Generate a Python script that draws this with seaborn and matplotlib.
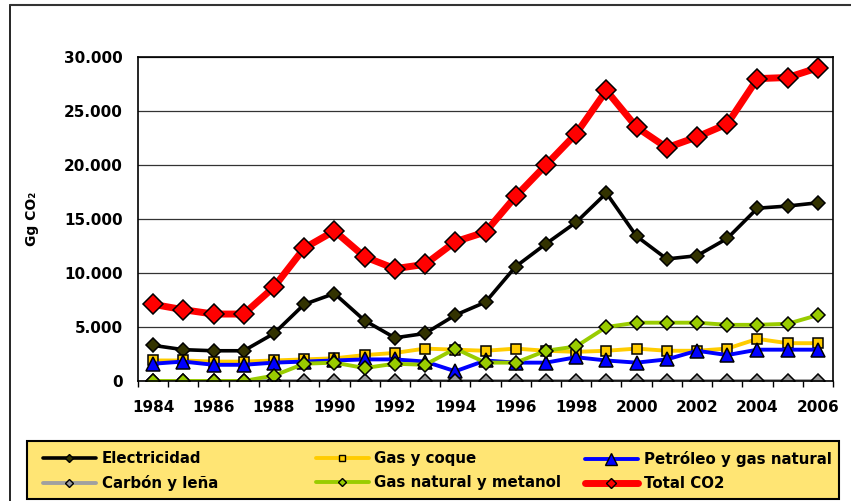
import matplotlib
matplotlib.use("Agg")
import matplotlib.pyplot as plt
import seaborn as sns
import pandas as pd
from matplotlib.ticker import FuncFormatter, MultipleLocator
from matplotlib.lines import Line2D
from matplotlib.patches import Rectangle

# data (Gg CO2)
years = list(range(1984, 2007))
electricidad = [3300, 2900, 2800, 2800, 4400, 7100, 8100, 5600, 4000, 4400, 6100, 7300,
                10600, 12700, 14700, 17400, 13400, 11300, 11600, 13200, 16000, 16200, 16500]
gas_coque = [1900, 1900, 1800, 1800, 1900, 2000, 2100, 2400, 2600, 3000, 2900, 2800,
             3000, 2800, 2700, 2800, 3000, 2800, 2800, 3000, 3900, 3500, 3500]
petroleo = [1600, 1800, 1500, 1500, 1700, 1800, 1900, 2000, 2000, 1800, 900, 1900,
            1700, 1700, 2200, 1900, 1700, 2000, 2800, 2400, 2900, 2900, 2900]
carbon = [0] * 23
gas_metanol = [0, 0, 0, 0, 500, 1600, 1700, 1200, 1600, 1500, 3000, 1700,
               1700, 2800, 3200, 5000, 5400, 5400, 5400, 5200, 5200, 5300, 6100]
total = [7100, 6600, 6200, 6200, 8700, 12300, 13900, 11500, 10400, 10800, 12900, 13800,
         17100, 20000, 22900, 26900, 23500, 21600, 22600, 23800, 28000, 28100, 29000]

# name, values, style, legend marker size
series = [
    ("Electricidad", electricidad, dict(color="black", lw=2.6, marker="D", ms=7, mfc="#333300"), 4.5),
    ("Gas y coque", gas_coque, dict(color="#FFCC00", lw=2.8, marker="s", ms=7, mfc="#FFCC00"), 5),
    ("Petróleo y gas natural", petroleo, dict(color="#0000FF", lw=2.8, marker="^", ms=10, mfc="#0000FF"), 8),
    ("Carbón y leña", carbon, dict(color="#A0A0A0", lw=2.8, marker="D", ms=7, mfc="#999999"), 4.5),
    ("Gas natural y metanol", gas_metanol, dict(color="#99CC00", lw=2.8, marker="D", ms=7, mfc="#99CC00"), 4.5),
    ("Total CO2", total, dict(color="#FF0000", lw=5, marker="D", ms=10, mfc="#FF0000"), 5),
]

sns.set_style("white")
plt.rcParams["font.family"] = ["DejaVu Sans"]
plt.rcParams.update({"text.color": "black", "axes.labelcolor": "black",
                     "xtick.color": "black", "ytick.color": "black"})

fig = plt.figure(figsize=(8.51, 5.01), dpi=100)
ax = fig.add_axes([138 / 851, 1 - 381 / 501, (833 - 138) / 851, (381 - 57) / 501])

handles = {}
for name, vals, st, lms in series:
    df = pd.DataFrame({"year": years, "val": vals})
    sns.lineplot(data=df, x="year", y="val", ax=ax, color=st["color"], linewidth=st["lw"],
                 marker=st["marker"], markersize=st["ms"], markerfacecolor=st["mfc"],
                 markeredgecolor="black", markeredgewidth=1.1, label=name, legend=False)
    handles[name] = Line2D([], [], color=st["color"], lw=st["lw"], marker=st["marker"],
                           ms=lms, mfc=st["mfc"], mec="black", mew=1.0)

ax.set_xlim(1983.5, 2006.5)
ax.set_ylim(0, 30000)
ax.yaxis.set_major_locator(MultipleLocator(5000))
ax.yaxis.set_major_formatter(FuncFormatter(lambda v, p: f"{int(v):,}".replace(",", ".")))
ax.set_xticks(years[::2])
ax.set_xticks([y + 0.5 for y in range(1983, 2007)], minor=True)
ax.grid(axis="y", color="#333333", lw=0.9)
ax.set_axisbelow(True)
for s in ax.spines.values():
    s.set_color("black")
    s.set_linewidth(1.2)
ax.tick_params(axis="x", which="major", length=0, pad=14, labelsize=11)
ax.tick_params(axis="x", which="minor", length=4, direction="out", width=1)
ax.tick_params(axis="y", length=5, direction="out", width=1, labelsize=11, pad=6)
ax.xaxis.set_tick_params(which="minor", bottom=True)
for t in ax.get_xticklabels() + ax.get_yticklabels():
    t.set_fontweight("bold")
ax.set_xlabel("")
ax.set_ylabel("Gg CO₂", fontsize=10, fontweight="bold", labelpad=18)

# legend box, then one legend per column
fig.add_artist(Rectangle((27 / 851, 1 - 499 / 501), (839 - 27) / 851, 58 / 501,
                         transform=fig.transFigure, facecolor="#FFE574", edgecolor="black", lw=1.5))
columns = [(["Electricidad", "Carbón y leña"], 43),
           (["Gas y coque", "Gas natural y metanol"], 316),
           (["Petróleo y gas natural", "Total CO2"], 585)]
for names, x0 in columns:
    fig.legend([handles[n] for n in names], names, loc="upper left",
               bbox_to_anchor=(x0 / 851, 1 - 451 / 501), frameon=False,
               handlelength=3.5, handletextpad=0.4, borderpad=0, borderaxespad=0,
               labelspacing=0.6, labelcolor="black", prop={"weight": "bold", "size": 10.8})

# outer chart frame
fig.add_artist(Line2D([10 / 851, 10 / 851], [0, 1 - 5 / 501], transform=fig.transFigure, color="black", lw=1.2))
fig.add_artist(Line2D([10 / 851, 1], [1 - 5 / 501, 1 - 5 / 501], transform=fig.transFigure, color="#333333", lw=1.5))

fig.savefig("out.png", dpi=100)
